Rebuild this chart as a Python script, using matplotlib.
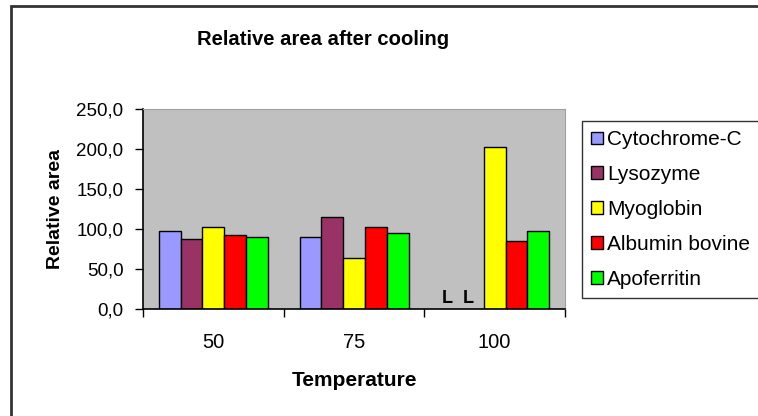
import numpy as np
import matplotlib
matplotlib.use("Agg")
import matplotlib.pyplot as plt
from matplotlib.patches import Rectangle

plt.rcParams['font.family'] = ['Liberation Sans', 'DejaVu Sans']

# data: relative area after cooling, per protein and temperature
temperatures = ['50', '75', '100']
proteins = ['Cytochrome-C', 'Lysozyme', 'Myoglobin', 'Albumin bovine', 'Apoferritin']
cytochrome_c = [97, 90, np.nan]
lysozyme = [87, 115, np.nan]
myoglobin = [102, 64, 202]
albumin_bovine = [92, 102.5, 85]
apoferritin = [90, 95, 97.5]
colors = ['#9999FF', '#993366', '#FFFF00', '#FF0000', '#00FF00']

series = [cytochrome_c, lysozyme, myoglobin, albumin_bovine, apoferritin]

fig = plt.figure(figsize=(7.58, 4.16), dpi=100)
ax = fig.add_axes([0.1887, 0.2572, 0.5567, 0.4808])
ax.set_facecolor('#C0C0C0')

x = np.arange(len(temperatures))
w = 0.155
for i, (vals, name, c) in enumerate(zip(series, proteins, colors)):
    pos = x + (i - 2) * w
    ax.bar(pos, vals, w, color=c, edgecolor='black', linewidth=1, label=name)
    # missing values show up as "L" on the baseline
    for p, v in zip(pos, vals):
        if np.isnan(v):
            ax.text(p - 0.03, 2, 'L', ha='center', va='bottom',
                    fontsize=13, fontweight='bold')

ax.set_xlim(-0.5, 2.5)
ax.set_ylim(0, 250)
ax.set_yticks(np.arange(0, 251, 50))
ax.set_yticklabels([f'{v:.1f}'.replace('.', ',') for v in np.arange(0, 251, 50)],
                   fontsize=13.5)
ax.set_xticks(x)
ax.set_xticklabels(temperatures, fontsize=14.5)
ax.set_xticks([0.5, 1.5, 2.5, -0.5], minor=True)
ax.tick_params(axis='x', which='major', length=0, pad=17)
ax.tick_params(axis='x', which='minor', length=6, width=1, direction='out')
ax.tick_params(axis='y', length=6, width=1, direction='out', pad=8)

for s in ['top', 'right']:
    ax.spines[s].set_color('#A0A0A0')
for s in ['left', 'bottom']:
    ax.spines[s].set_color('black')
    ax.spines[s].set_linewidth(1.2)

ax.set_xlabel('Temperature', fontsize=15, fontweight='bold', labelpad=14)
ax.set_ylabel('Relative area', fontsize=14, fontweight='bold', labelpad=9)
fig.text(0.4268, 0.904, 'Relative area after cooling', ha='center', va='center',
         fontsize=14.6, fontweight='bold')

leg = ax.legend(loc='upper left', bbox_to_anchor=(1.04, 0.94), fontsize=15,
                frameon=True, fancybox=False, edgecolor='black',
                handlelength=0.57, handleheight=0.57, handletextpad=0.2,
                labelspacing=0.76, borderpad=0.45, borderaxespad=0)
leg.get_frame().set_linewidth(1)

# outer chart border
fig.patches.append(Rectangle((0.014, -0.1), 1.1, 1.085, transform=fig.transFigure,
                             fill=False, edgecolor='#333333', linewidth=2))

fig.savefig('out.png', dpi=100)
